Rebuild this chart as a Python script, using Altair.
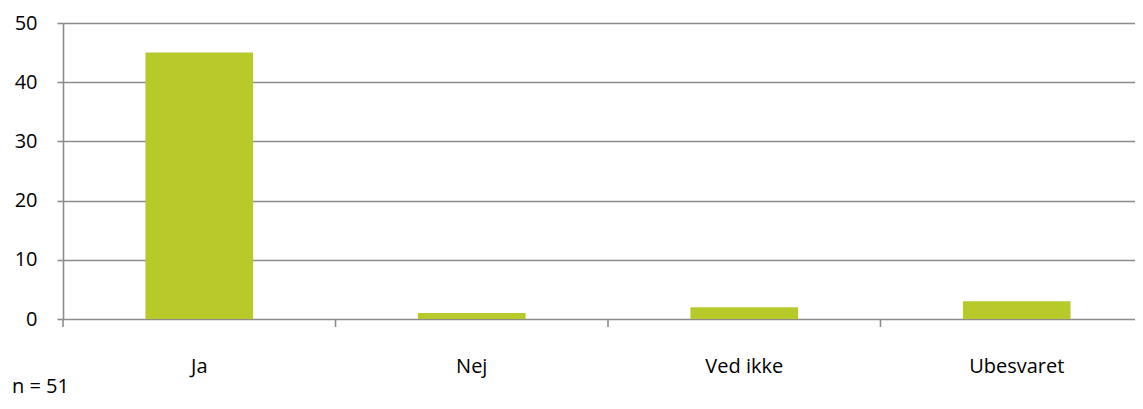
import altair as alt
import pandas as pd

categories = ["Ja", "Nej", "Ved ikke", "Ubesvaret"]
values = [45, 1, 2, 3]
y_ticks = [0, 10, 20, 30, 40, 50]
footnote = ["n = 51"]

df = pd.DataFrame({"cat": categories, "val": values})
note_df = pd.DataFrame({"note": footnote})

FONT = "Open Sans"
GRID = "#8c8c8c"

xs = alt.Scale(domain=categories, range=[0, 1090], paddingInner=0, paddingOuter=0)

bars = alt.Chart(df).mark_bar(color="#b8c92a", width=alt.RelativeBandSize(0.395)).encode(
    x=alt.X("cat:N", scale=xs, sort=categories,
            axis=alt.Axis(title=None, labelAngle=0, ticks=False, tickSize=0, domain=False,
                          grid=False, labelFont=FONT, labelFontSize=20, labelColor="#000000",
                          labelBaseline="alphabetic", labelPadding=53)),
    y=alt.Y("val:Q", scale=alt.Scale(domain=[0, 50], nice=False),
            axis=alt.Axis(title=None, values=y_ticks, grid=True, gridColor=GRID, gridWidth=1.6,
                          domainColor=GRID, domainWidth=1.6, tickColor=GRID, tickWidth=1.6,
                          tickSize=6, labelPadding=20, labelFont=FONT, labelFontSize=20,
                          labelColor="#000000")),
)

ticks = alt.Chart(df).mark_rule(color=GRID, strokeWidth=1.6).encode(
    x=alt.X("cat:N", scale=xs, sort=categories, bandPosition=0),
    y=alt.value(296),
    y2=alt.value(304),
)

note = alt.Chart(note_df).mark_text(align="left", baseline="alphabetic", font=FONT,
                                    fontSize=20, color="#000000").encode(
    x=alt.value(-51),
    y=alt.value(370),
    text="note:N",
)

chart = alt.layer(bars, ticks, note).properties(
    width=1072, height=296,
    autosize=alt.AutoSizeParams(type="none"),
    padding={"left": 55, "top": 15, "right": 0, "bottom": 82},
).configure_view(stroke=None)

chart.save("out.html", embed_options={"renderer": "svg", "actions": False})
